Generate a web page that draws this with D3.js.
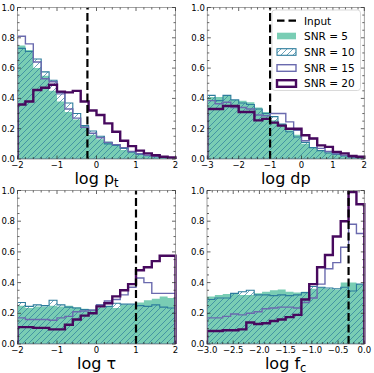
<!DOCTYPE html>
<html><head><meta charset="utf-8">
<script src="https://cdn.jsdelivr.net/npm/d3@7"></script>
<style>html,body{margin:0;padding:0;background:#fff;}svg{display:block;font-family:"DejaVu Sans",sans-serif;}</style>
</head><body><svg id="c" width="374" height="373"></svg>
<script>
// ---------- data ----------
const seriesNames = ["SNR = 5", "SNR = 10", "SNR = 15", "SNR = 20"];
const yTicks = [0, 0.2, 0.4, 0.6, 0.8, 1.0];

// log p_t panel, 20 bins on [-2, 2]
const ptDomain = [-2, 2];
const ptInput = -0.23;
const ptTicks = [-2, -1, 0, 1, 2];
const ptSNR5  = [0.75,0.72,0.60,0.55,0.45,0.38,0.31,0.26,0.22,0.16,0.13,0.115,0.09,0.06,0.045,0.033,0.025,0.018,0.012,0.008];
const ptSNR10 = [0.73,0.71,0.66,0.575,0.52,0.44,0.37,0.30,0.22,0.185,0.15,0.10,0.09,0.07,0.045,0.03,0.022,0.016,0.01,0.006];
const ptSNR15 = [0.81,0.76,0.64,0.53,0.51,0.43,0.33,0.27,0.21,0.17,0.14,0.11,0.095,0.075,0.05,0.035,0.025,0.018,0.012,0.008];
const ptSNR20 = [0.36,0.38,0.455,0.47,0.49,0.445,0.44,0.45,0.38,0.32,0.29,0.235,0.18,0.12,0.085,0.055,0.037,0.025,0.015,0.01];

// log dp panel, 20 bins on [-3, 2]
const dpDomain = [-3, 2];
const dpInput = -1;
const dpTicks = [-3, -2, -1, 0, 1, 2];
const dpSNR5  = [0.41,0.41,0.42,0.39,0.385,0.375,0.34,0.31,0.255,0.23,0.19,0.16,0.10,0.08,0.06,0.045,0.03,0.02,0.012,0.008];
const dpSNR10 = [0.42,0.385,0.42,0.39,0.37,0.36,0.33,0.30,0.28,0.23,0.18,0.145,0.11,0.075,0.055,0.04,0.03,0.02,0.012,0.008];
const dpSNR15 = [0.385,0.365,0.375,0.34,0.34,0.33,0.29,0.285,0.30,0.30,0.245,0.19,0.12,0.135,0.07,0.05,0.035,0.025,0.015,0.01];
const dpSNR20 = [0.33,0.33,0.35,0.35,0.31,0.31,0.255,0.265,0.24,0.22,0.2,0.2,0.157,0.135,0.09,0.08,0.047,0.037,0.02,0.015];

// log tau panel, 20 bins on [-2, 2]
const tauDomain = [-2, 2];
const tauInput = 1;
const tauTicks = [-2, -1, 0, 1, 2];
const tauSNR5  = [0.25,0.235,0.245,0.245,0.25,0.245,0.25,0.24,0.23,0.225,0.24,0.245,0.235,0.255,0.255,0.27,0.285,0.295,0.31,0.30];
const tauSNR10 = [0.27,0.245,0.255,0.25,0.285,0.255,0.24,0.235,0.225,0.22,0.255,0.245,0.265,0.26,0.26,0.25,0.245,0.255,0.24,0.235];
const tauSNR15 = [0.17,0.16,0.16,0.16,0.155,0.17,0.18,0.21,0.215,0.22,0.255,0.28,0.29,0.32,0.37,0.43,0.40,0.33,0.33,0.33];
const tauSNR20 = [0.11,0.11,0.105,0.105,0.095,0.095,0.125,0.16,0.185,0.2,0.245,0.265,0.31,0.35,0.39,0.48,0.50,0.54,0.575,0.575];

// log f_c panel, 20 bins on [-3, 0]
const fcDomain = [-3, 0];
const fcInput = -0.3;
const fcTicks = [-3.0, -2.5, -2.0, -1.5, -1.0, -0.5, 0.0];
const fcSNR5  = [0.31,0.32,0.325,0.33,0.32,0.32,0.33,0.34,0.35,0.355,0.34,0.335,0.34,0.36,0.37,0.36,0.355,0.40,0.40,0.39];
const fcSNR10 = [0.29,0.30,0.30,0.33,0.34,0.35,0.32,0.32,0.315,0.32,0.315,0.32,0.335,0.375,0.37,0.365,0.36,0.37,0.345,0.39];
const fcSNR15 = [0.17,0.17,0.18,0.195,0.19,0.2,0.21,0.23,0.235,0.24,0.24,0.235,0.27,0.30,0.39,0.49,0.53,0.63,0.78,0.72];
const fcSNR20 = [0.085,0.085,0.09,0.09,0.095,0.14,0.13,0.135,0.15,0.16,0.175,0.19,0.29,0.39,0.50,0.58,0.70,0.80,0.99,0.91];

// ---------- style ----------
const C5 = "#79cdb4", C10 = "#2d7c9c", C15 = "#6a6aae", C20 = "#47095e";

const svg = d3.select("#c");
const defs = svg.append("defs");
const pat = defs.append("pattern").attr("id","hatch").attr("patternUnits","userSpaceOnUse")
  .attr("width",6).attr("height",6);
pat.append("path").attr("d","M-1,1 L1,-1 M0,6 L6,0 M5,7 L7,5")
  .attr("stroke",C10).attr("stroke-width",0.7).attr("fill","none");

const panels = [
  {x0:17.5, x1:175.5, y0:7.5,  y1:159, domain:ptDomain, ticks:ptTicks, minor:0.2, fmt:d3.format("d"), input:ptInput,
   data:[ptSNR5,ptSNR10,ptSNR15,ptSNR20], label:["log p","t"]},
  {x0:207.3, x1:364.3, y0:7.5, y1:159, domain:dpDomain, ticks:dpTicks, minor:0.2, fmt:d3.format("d"), input:dpInput,
   data:[dpSNR5,dpSNR10,dpSNR15,dpSNR20], label:["log dp",""], legend:true},
  {x0:17.5, x1:175.5, y0:190.5, y1:344, domain:tauDomain, ticks:tauTicks, minor:0.2, fmt:d3.format("d"), input:tauInput,
   data:[tauSNR5,tauSNR10,tauSNR15,tauSNR20], label:["log τ",""]},
  {x0:207, x1:364.3, y0:190.5, y1:344, domain:fcDomain, ticks:fcTicks, minor:0.1, fmt:d3.format(".1f"), input:fcInput,
   data:[fcSNR5,fcSNR10,fcSNR15,fcSNR20], label:["log f","c"]}
];

const minus = s => s.replace("-", "\u2212");

panels.forEach((p, pi) => {
  const x = d3.scaleLinear().domain(p.domain).range([p.x0, p.x1]);
  const y = d3.scaleLinear().domain([0, 1]).range([p.y1, p.y0]);
  const g = svg.append("g");
  const cid = "clip" + pi;
  defs.append("clipPath").attr("id", cid).append("rect")
    .attr("x", p.x0).attr("y", p.y0 - 2).attr("width", p.x1 - p.x0 + 2).attr("height", p.y1 - p.y0 + 2);
  const pg = g.append("g").attr("clip-path", `url(#${cid})`);

  const n = p.data[0].length;
  const edges = d3.range(n + 1).map(i => p.domain[0] + (p.domain[1] - p.domain[0]) * i / n);
  const stepPts = vals => {
    const pts = [[edges[0], 0]];
    vals.forEach((v, i) => { pts.push([edges[i], v]); pts.push([edges[i + 1], v]); });
    pts.push([edges[n], 0]);
    return pts;
  };
  const line = d3.line().x(d => x(d[0])).y(d => y(d[1]));

  pg.append("path").attr("d", line(stepPts(p.data[0])) + "Z").attr("fill", C5).attr("stroke", "none");
  pg.append("path").attr("d", line(stepPts(p.data[1])) + "Z").attr("fill", "url(#hatch)")
    .attr("stroke", C10).attr("stroke-width", 1.1);
  pg.append("path").attr("d", line(stepPts(p.data[2]))).attr("fill", "none")
    .attr("stroke", C15).attr("stroke-width", 1.4).attr("stroke-linejoin","miter");
  pg.append("path").attr("d", line(stepPts(p.data[3]))).attr("fill", "none")
    .attr("stroke", C20).attr("stroke-width", 2.4).attr("stroke-linejoin","miter");
  g.append("line").attr("x1", x(p.input)).attr("x2", x(p.input)).attr("y1", y(0)).attr("y2", y(1))
    .attr("stroke", "#000").attr("stroke-width", 2.2).attr("stroke-dasharray", "8,3.5");

  g.append("rect").attr("x", p.x0).attr("y", p.y0).attr("width", p.x1 - p.x0).attr("height", p.y1 - p.y0)
    .attr("fill", "none").attr("stroke", "#8a8a8a").attr("stroke-width", 0.8);

  const tk = g.append("g").attr("stroke", "#222").attr("stroke-width", 0.7);
  const nMinorX = Math.round((p.domain[1] - p.domain[0]) / p.minor);
  d3.range(nMinorX + 1).map(i => p.domain[0] + i * p.minor).forEach(v => {
    const isMajor = p.ticks.some(t => Math.abs(t - v) < 1e-6);
    const L = isMajor ? 3.5 : 2;
    tk.append("line").attr("x1", x(v)).attr("x2", x(v)).attr("y1", p.y1).attr("y2", p.y1 - L);
    tk.append("line").attr("x1", x(v)).attr("x2", x(v)).attr("y1", p.y0).attr("y2", p.y0 + L);
  });
  d3.range(21).map(i => i * 0.05).forEach(v => {
    const isMajor = yTicks.some(t => Math.abs(t - v) < 1e-6);
    const L = isMajor ? 3.5 : 2;
    tk.append("line").attr("y1", y(v)).attr("y2", y(v)).attr("x1", p.x0).attr("x2", p.x0 + L);
    tk.append("line").attr("y1", y(v)).attr("y2", y(v)).attr("x1", p.x1).attr("x2", p.x1 - L);
  });

  const tl = g.append("g").attr("font-size", 8.5).attr("fill", "#000");
  p.ticks.forEach(t => {
    tl.append("text").attr("x", x(t)).attr("y", p.y1 + 9).attr("text-anchor", "middle").text(minus(p.fmt(t)));
  });
  yTicks.forEach(t => {
    tl.append("text").attr("x", p.x0 - 2.5).attr("y", y(t) + 3).attr("text-anchor", "end").text(d3.format(".1f")(t));
  });

  const lab = g.append("text").attr("x", (p.x0 + p.x1) / 2).attr("y", p.y1 + 25)
    .attr("text-anchor", "middle").attr("font-size", 16).attr("fill", "#000");
  lab.append("tspan").text(p.label[0]);
  if (p.label[1]) lab.append("tspan").attr("font-size", 11.5).attr("dy", 2.5).text(p.label[1]);

  if (p.legend) {
    const lg = g.append("g");
    lg.append("rect").attr("x", 272).attr("y", 10).attr("width", 88.5).attr("height", 80.5).attr("rx", 3)
      .attr("fill", "#fff").attr("fill-opacity", 0.85).attr("stroke", "#d0d0d0").attr("stroke-width", 0.8);
    const rows = [20.7, 36, 52, 68, 83.5];
    const hx = 277, hw = 19, hh = 6.6, tx = 304;
    lg.append("line").attr("x1", hx).attr("x2", hx + hw).attr("y1", rows[0]).attr("y2", rows[0])
      .attr("stroke", "#000").attr("stroke-width", 2.2).attr("stroke-dasharray", "7.5,4");
    lg.append("rect").attr("x", hx).attr("y", rows[1] - hh / 2).attr("width", hw).attr("height", hh).attr("fill", C5);
    lg.append("rect").attr("x", hx).attr("y", rows[2] - hh / 2).attr("width", hw).attr("height", hh)
      .attr("fill", "url(#hatch)").attr("stroke", C10).attr("stroke-width", 1.1);
    lg.append("rect").attr("x", hx).attr("y", rows[3] - hh / 2).attr("width", hw).attr("height", hh)
      .attr("fill", "none").attr("stroke", C15).attr("stroke-width", 1.4);
    lg.append("rect").attr("x", hx).attr("y", rows[4] - hh / 2).attr("width", hw).attr("height", hh)
      .attr("fill", "none").attr("stroke", C20).attr("stroke-width", 2.4);
    const names = ["Input"].concat(seriesNames);
    names.forEach((nm, i) => {
      lg.append("text").attr("x", tx).attr("y", rows[i] + 3.8).attr("font-size", 10.5).text(nm);
    });
  }
});
</script></body></html>
